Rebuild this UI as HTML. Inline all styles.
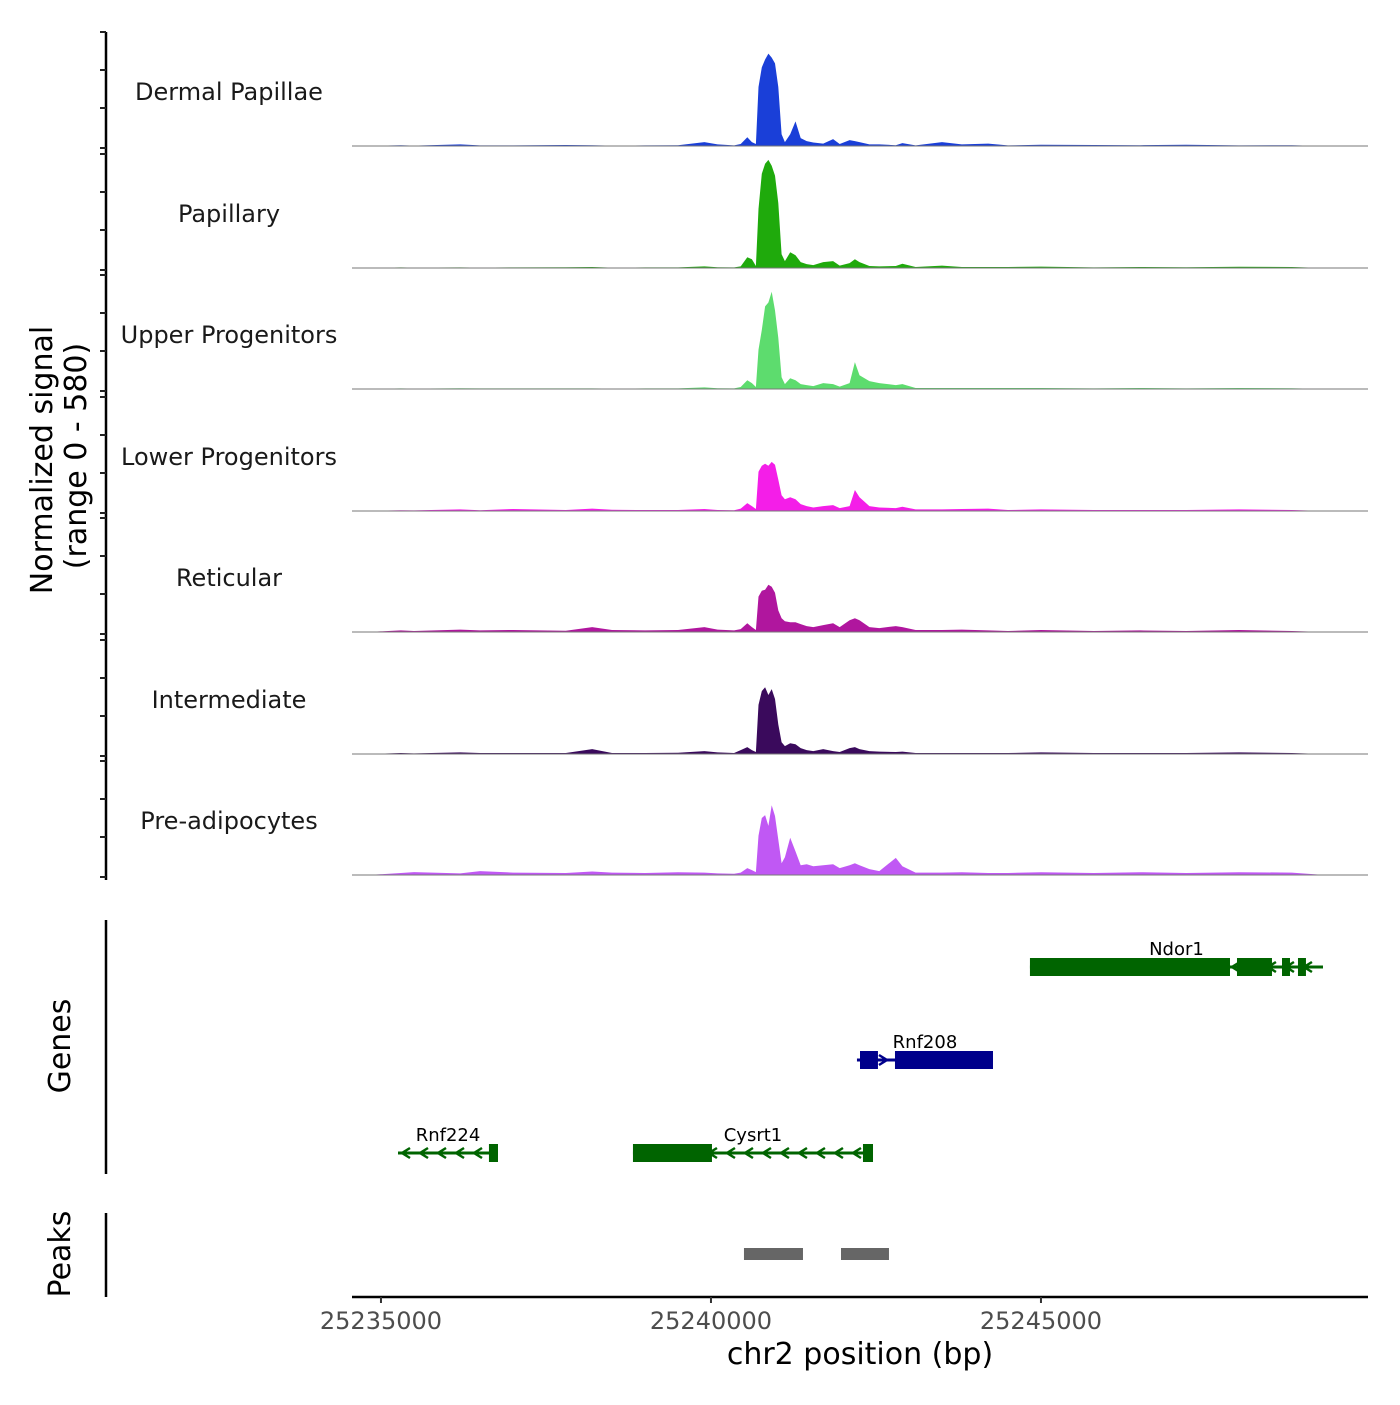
<!DOCTYPE html>
<html><head><meta charset="utf-8"><style>
body{margin:0;background:#fff}
svg{font-family:"DejaVu Sans","Liberation Sans",sans-serif}
</style></head><body>
<svg id="c" width="1400" height="1400" viewBox="0 0 1400 1400" xmlns="http://www.w3.org/2000/svg"></svg>
<script>
const positions=[25234800,25235300,25235500,25236200,25236500,25237000,25237800,25238200,25238500,25239000,25239500,25239900,25240100,25240350,25240450,25240550,25240620,25240680,25240720,25240770,25240820,25240870,25240920,25240970,25241020,25241070,25241120,25241200,25241280,25241360,25241450,25241550,25241700,25241850,25241950,25242100,25242180,25242250,25242400,25242550,25242800,25242900,25243100,25243500,25243800,25244200,25244500,25245000,25245800,25246500,25247200,25248000,25248800,25249300];
const trackNames=["Dermal Papillae","Papillary","Upper Progenitors","Lower Progenitors","Reticular","Intermediate","Pre-adipocytes"];
const trackColors=["#1a3fd8","#1faa0c","#5ddc6e","#f41ee8","#b0169e","#3a0a5c","#c058f4"];
const valsDermal=[0,4,2,8,3,3,5,4,2,3,4,20,8,3,10,45,20,10,300,400,440,470,450,420,300,60,20,60,125,40,25,18,12,35,10,30,25,20,8,8,4,15,3,20,8,12,3,6,5,4,6,3,4,0];
const valsPapillary=[0,3,2,3,2,3,4,5,2,3,3,8,4,3,8,55,45,10,300,480,530,550,520,470,330,70,35,80,65,30,20,15,30,35,12,25,45,30,10,8,10,22,5,12,5,5,5,7,3,5,4,6,5,0];
const valsUpper=[0,3,2,4,3,3,3,3,2,3,3,8,4,3,10,45,30,10,200,300,420,440,495,400,260,60,25,55,45,25,20,15,30,25,12,30,137,70,40,30,20,25,5,5,5,5,5,5,3,5,3,5,4,0];
const valsLower=[0,4,3,8,4,10,5,12,6,5,5,10,5,4,12,40,25,10,200,230,240,230,250,235,160,80,60,70,60,35,25,18,25,30,15,25,107,70,25,18,15,22,8,8,10,12,5,8,5,5,5,8,5,0];
const valsReticular=[0,8,5,12,8,10,6,25,10,8,10,25,12,8,15,45,25,10,180,210,215,240,230,200,110,70,55,50,50,40,30,25,35,45,25,60,70,60,25,20,30,25,10,10,12,8,5,10,5,8,5,10,5,0];
const valsIntermediate=[0,5,3,8,5,5,5,25,5,5,6,15,8,5,20,35,20,10,250,320,340,300,330,280,150,60,40,55,50,30,20,15,25,15,10,30,35,25,15,12,10,12,5,5,5,5,5,8,5,5,5,8,5,0];
const valsPreadipo=[0,10,15,8,20,12,10,18,12,10,14,12,8,6,12,35,25,15,200,290,305,250,355,300,180,60,90,190,120,50,55,45,50,55,35,50,60,50,30,20,87,45,12,12,14,10,10,14,10,14,10,14,12,0];
const allVals=[valsDermal,valsPapillary,valsUpper,valsLower,valsReticular,valsIntermediate,valsPreadipo];
const xTicks=[25235000,25240000,25245000];
const xTickLabels=["25235000","25240000","25245000"];
const geneNames=["Ndor1","Rnf208","Cysrt1","Rnf224"];
const geneStart=[25244833,25242212,25238818,25235258];
const geneEnd=[25249273,25244273,25242455,25236773];
const geneStrand=[-1,1,-1,-1];
const geneRow=[0,1,2,2];
const geneExons=[[[25244833,25247864],[25247970,25248500],[25248652,25248773],[25248894,25249015]],[[25242258,25242530],[25242788,25244273]],[[25238818,25240015],[25242303,25242455]],[[25236636,25236773]]];
const peakStart=[25240500,25241970];
const peakEnd=[25241394,25242697];

const NS="http://www.w3.org/2000/svg",svg=document.getElementById('c');
function mk(t,a,txt,parent){const e=document.createElementNS(NS,t);for(const k in a)e.setAttribute(k,a[k]);if(txt!=null)e.textContent=txt;(parent||svg).appendChild(e);return e;}
const X0=352,X1=1368,BP0=25234561,BP1=25249955;
const xs=bp=>X0+(bp-BP0)/(BP1-BP0)*(X1-X0);
const baselines=[146,268,389,511,632,754,875];
const TH=114, YMAX=580;
const ys=(v,b)=>b-v/YMAX*TH;

let e=mk('line',{x1:106,y1:32,x2:106,y2:880,stroke:'#000','stroke-width':2.5});

baselines.forEach((b,i)=>{
  [0,38,76,114].forEach(o=>{const t=mk('line',{x1:100,y1:b-o+(o==0?2:0),x2:106,y2:b-o+(o==0?2:0),stroke:'#222','stroke-width':2});
  });
  const g=mk('g',{});
  
  
  let d='M'+xs(positions[0])+','+b;
  allVals[i].forEach((v,j)=>{d+=' L'+xs(positions[j]).toFixed(1)+','+ys(v,b).toFixed(1);});
  d+=' L'+xs(positions[positions.length-1])+','+b+'Z';
  const p=mk('path',{d:d,fill:trackColors[i]},null,g);
  
  const bl=mk('line',{x1:X0,y1:b,x2:X1,y2:b,stroke:'#777','stroke-width':1},null,g);
  
  const lb=mk('text',{x:229,y:b-46,'text-anchor':'middle','font-size':24,fill:'#1a1a1a'},trackNames[i],g);
  
});
e=mk('text',{transform:'translate(52,460) rotate(-90)','text-anchor':'middle','font-size':30,fill:'#000'},'Normalized signal');

e=mk('text',{transform:'translate(86,456) rotate(-90)','text-anchor':'middle','font-size':30,fill:'#000'},'(range 0 - 580)');


e=mk('line',{x1:106,y1:920,x2:106,y2:1174,stroke:'#000','stroke-width':2.5});

e=mk('text',{transform:'translate(70,1046) rotate(-90)','text-anchor':'middle','font-size':30,fill:'#000'},'Genes');

const rowY=[967,1060,1153];
geneNames.forEach((n,i)=>{
  const y=rowY[geneRow[i]],col=geneStrand[i]<0?'#006400':'#00008b';
  const g=mk('g',{});
  
  const x1=xs(geneStart[i]),x2=xs(geneEnd[i]);
  mk('line',{x1:x1,y1:y,x2:x2,y2:y,stroke:col,'stroke-width':3},null,g);
  for(let x=x1+8;x<x2-4;x+=18){const s=geneStrand[i];
    mk('path',{d:`M${x-4*s},${y-5} L${x+4*s},${y} L${x-4*s},${y+5}`,stroke:col,'stroke-width':2.5,fill:'none'},null,g);}
  geneExons[i].forEach(ex=>{const r=mk('rect',{x:xs(ex[0]),y:y-9,width:xs(ex[1])-xs(ex[0]),height:18,fill:col},null,g);
    });
  const t=mk('text',{x:(x1+x2)/2,y:y-12,'text-anchor':'middle','font-size':18,fill:'#000'},n,g);
  
});

e=mk('line',{x1:106,y1:1213,x2:106,y2:1297,stroke:'#000','stroke-width':2.5});

e=mk('text',{transform:'translate(70,1254) rotate(-90)','text-anchor':'middle','font-size':30,fill:'#000'},'Peaks');

peakStart.forEach((s,i)=>{const r=mk('rect',{x:xs(s),y:1248,width:xs(peakEnd[i])-xs(s),height:12,fill:'#666'});
  });

e=mk('line',{x1:X0,y1:1297,x2:X1,y2:1297,stroke:'#000','stroke-width':2.5});

xTicks.forEach((t,i)=>{const x=xs(t);
  const l=mk('line',{x1:x,y1:1297,x2:x,y2:1303,stroke:'#333','stroke-width':2});
  
  const tx=mk('text',{x:x,y:1329,'text-anchor':'middle','font-size':24,fill:'#4d4d4d'},xTickLabels[i]);
  });
e=mk('text',{x:860,y:1364,'text-anchor':'middle','font-size':30,fill:'#000'},'chr2 position (bp)');

</script>
</body></html>
